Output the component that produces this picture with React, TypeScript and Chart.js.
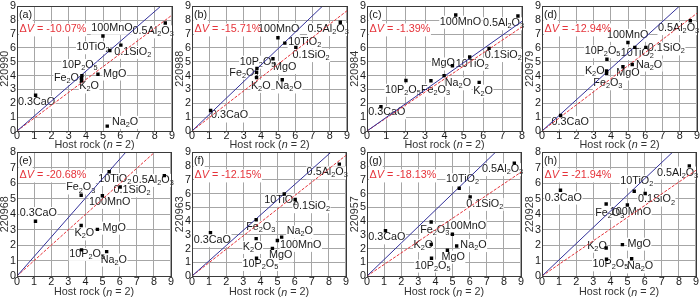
import { useEffect, useRef } from 'react';
import { Chart, registerables } from 'chart.js';
Chart.register(...registerables);

// ---------- data ----------
const oxideLabels = ['0.1SiO2', '10TiO2', '0.5Al2O3', 'Fe2O3', '100MnO', 'MgO', '0.3CaO', 'Na2O', 'K2O', '10P2O5'];
const hostRock = [6.03, 5.39, 8.61, 3.75, 4.99, 4.7, 1.08, 5.24, 3.75, 3.77];
const hostRockC = [6.3, 5.3, 7.79, 3.3, 4.58, 4.41, 0.72, 3.98, 5.79, 2.01];

const sampleIds = ['220990', '220988', '220984', '220979', '220968', '220963', '220957', '220928'];
const panelTags = ['(a)', '(b)', '(c)', '(d)', '(e)', '(f)', '(g)', '(h)'];
const deltaV = [-10.07, -15.71, -1.39, -12.94, -20.68, -12.15, -18.13, -21.94];

const yA = [6.2, 5.81, 7.8, 3.82, 6.86, 4.1, 2.58, 0.35, 3.65, 4.0];
const yB = [6.04, 6.35, 7.85, 4.24, 6.74, 5.22, 1.48, 3.7, 3.86, 4.52];
const yC = [5.97, 5.34, 8.31, 3.63, 8.38, 4.71, 1.76, 4.0, 3.51, 3.65];
const yD = [6.04, 6.04, 7.96, 4.17, 6.39, 4.64, 1.12, 4.8, 4.33, 5.18];
const yE = [5.76, 6.75, 6.5, 5.23, 5.19, 3.02, 3.54, 1.58, 3.27, 1.69];
const yF = [5.57, 5.97, 8.15, 4.1, 2.58, 2.01, 3.16, 2.83, 2.72, 1.29];
const yG = [5.76, 6.39, 8.22, 3.93, 3.04, 1.87, 3.3, 2.18, 2.3, 1.29];
const yH = [5.34, 5.49, 7.13, 4.66, 4.6, 2.03, 5.55, 1.12, 1.81, 1.08];
const sampleValues = [yA, yB, yC, yD, yE, yF, yG, yH];
const hostValues = [hostRock, hostRock, hostRockC, hostRock, hostRock, hostRock, hostRock, hostRock];

const blueSlopes = [1.08, 1.19, 0.99, 1.13, 1.26, 1.11, 1.2, 1.05];
const redSlopes = [0.93, 0.965, 0.94, 0.945, 0.996, 0.976, 0.84, 0.76];
const xMaxes = [9, 9, 8, 9, 9, 9, 9, 9];
const yMaxes = [9, 9, 9, 9, 8, 9, 9, 8];

// ---------- layout (label offsets in px, relative to point) ----------
const labelOffsets: number[][][] = [
  [[-6.7, 6.7], [-33.3, -3.3], [-32.7, 8.3], [-27.7, 0], [-11.7, -8.3], [5, -0.7], [-17.7, 6.7], [4.7, -4.3], [-2.3, 6], [-20, -10.7]],
  [[-3.3, 7.7], [3.3, -1.3], [-32.7, 6.7], [-27.3, 0.3], [-20, -9], [0, 8.3], [0.3, 5], [-6.7, 6.7], [-5.7, 8.3], [-17.3, -6.7]],
  [[-4.3, 6.7], [-14, 6.7], [-35, 7.3], [-10, 9], [-16, 6.7], [-21, -2.3], [-12.7, 5.7], [0.7, 7.7], [-6, 8.3], [-21, 9.3]],
  [[2, 1], [-14, 5.7], [-32.3, 7.3], [-13.3, 10], [-21, -7.7], [-6.7, 6.7], [-9, 6.7], [3.7, 0], [-21.7, 0], [-22.3, -8]],
  [[-6.7, 3.3], [-11, 7.3], [-31.7, 4.3], [-15, -7.7], [-13.3, 6], [5, -1.7], [-15.7, -8.3], [-6, 8], [-6.7, 8], [-12.3, 4]],
  [[-2.3, 6.7], [-20, 5.7], [-32.7, 8.3], [-10, 7.3], [2.7, 4.3], [-3.3, 7], [-16.7, 7.3], [5, -5.7], [-13.3, 8.3], [-14, 5.7]],
  [[-4, 7], [-13.3, -9], [-32.3, 6], [-11, 7.7], [-7.7, -8.7], [-6, 6.3], [-17.3, 6.7], [3.7, -1], [-17.7, 0.7], [-16.7, 7.3]],
  [[-7.3, 6], [-14, -10], [-32.3, 6.7], [-11, 8.7], [-17.7, 7.3], [5, -1], [-15.7, 7.3], [-4.7, 7.7], [-19, -2.3], [-14, 5]],
];

const FONT = '"Liberation Sans", Arial, Helvetica, sans-serif';
const FS = 10.8;
const PANEL_W = 175;
const ROWS = [
  { top: 0, h: 152, padTop: 3, axisH: 21, tickPad: 0, titleOff: 14 },
  { top: 146, h: 152, padTop: 2, axisH: 22, tickPad: 1, titleOff: 16.5 },
];
const RED = '#e5333a';
const BLUE = '#33319a';
const GRID = '#a6a6a6';
const TEXT = '#1a1a1a';

type Seg = { t: string; sub: boolean; italic?: boolean };
type TextItem = { segs: Seg[]; x: number; y: number; color: string };

function parseFormula(s: string): Seg[] {
  const segs: Seg[] = [];
  let prevLetter = false;
  for (const ch of s) {
    const isDigit = /[0-9]/.test(ch);
    const sub = isDigit && prevLetter;
    const last = segs[segs.length - 1];
    if (last && last.sub === sub) last.t += ch;
    else segs.push({ t: ch, sub });
    prevLetter = /[A-Za-z]/.test(ch) || sub;
  }
  return segs;
}

function segFont(seg: Seg) {
  const size = seg.sub ? FS * 0.68 : FS;
  return `${seg.italic ? 'italic ' : ''}${size}px ${FONT}`;
}

function segsWidth(ctx: CanvasRenderingContext2D, segs: Seg[]) {
  let w = 0;
  for (const s of segs) {
    ctx.font = segFont(s);
    w += ctx.measureText(s.t).width;
  }
  return w;
}

function drawBg(ctx: CanvasRenderingContext2D, it: TextItem) {
  const w = segsWidth(ctx, it.segs);
  ctx.fillStyle = '#ffffff';
  ctx.fillRect(it.x - 0.5, it.y - 6, w + 1, 13);
}

function drawText(ctx: CanvasRenderingContext2D, it: TextItem) {
  let cx = it.x;
  ctx.fillStyle = it.color;
  ctx.textBaseline = 'middle';
  ctx.textAlign = 'left';
  for (const s of it.segs) {
    ctx.font = segFont(s);
    ctx.fillText(s.t, cx, s.sub ? it.y + 3 : it.y);
    cx += ctx.measureText(s.t).width;
  }
}

function Panel({ idx }: { idx: number }) {
  const ref = useRef<HTMLCanvasElement>(null);
  const row = ROWS[Math.floor(idx / 4)];
  const col = idx % 4;

  useEffect(() => {
    const canvas = ref.current;
    if (!canvas) return;
    const xs = hostValues[idx];
    const ys = sampleValues[idx];
    const xMax = xMaxes[idx];
    const yMax = yMaxes[idx];
    const lineEnd = (k: number) => {
      const xe = Math.min(xMax, yMax / k);
      return [{ x: 0, y: 0 }, { x: xe, y: k * xe }];
    };

    const annot = {
      id: 'annot' + idx,
      beforeDatasetsDraw(chart: any) {
        const { ctx, chartArea, scales } = chart;
        ctx.save();
        const items: TextItem[] = [];
        xs.forEach((xv, i) => {
          const px = scales.x.getPixelForValue(xv);
          const py = scales.y.getPixelForValue(ys[i]);
          const [dx, dy] = labelOffsets[idx][i];
          items.push({ segs: parseFormula(oxideLabels[i]), x: px + dx, y: py + dy, color: TEXT });
        });
        items.push({ segs: [{ t: panelTags[idx], sub: false }], x: chartArea.left + 2, y: chartArea.top + 8.5, color: TEXT });
        items.push({
          segs: [
            { t: 'Δ', sub: false },
            { t: 'V', sub: false, italic: true },
            { t: ` = ${deltaV[idx].toFixed(2)}%`, sub: false },
          ],
          x: chartArea.left + 2.5,
          y: chartArea.top + 23,
          color: RED,
        });
        items.forEach((it) => drawBg(ctx, it));
        items.forEach((it) => drawText(ctx, it));
        ctx.restore();
      },
      afterDraw(chart: any) {
        const { ctx, chartArea } = chart;
        ctx.save();
        ctx.strokeStyle = '#3a3a3a';
        ctx.lineWidth = 1;
        const l = Math.round(chartArea.left) + 0.5;
        const t = Math.round(chartArea.top) + 0.5;
        const r = Math.round(chartArea.right) + 0.5;
        const b = Math.round(chartArea.bottom) + 0.5;
        ctx.strokeRect(l, t, r - l, b - t);
        const title: Seg[] = [
          { t: 'Host rock (', sub: false },
          { t: 'n', sub: false, italic: true },
          { t: ' = 2)', sub: false },
        ];
        const w = segsWidth(ctx, title);
        drawText(ctx, { segs: title, x: (chartArea.left + chartArea.right) / 2 - w / 2, y: chartArea.bottom + row.titleOff, color: '#333' });
        ctx.restore();
      },
    };

    const chart = new Chart(canvas, {
      type: 'scatter',
      data: {
        datasets: [
          {
            data: xs.map((x, i) => ({ x, y: ys[i] })),
            pointStyle: 'rect',
            pointRadius: 2.4,
            backgroundColor: '#000',
            borderWidth: 0,
          } as any,
          {
            data: lineEnd(blueSlopes[idx]),
            showLine: true,
            borderColor: BLUE,
            borderWidth: 1,
            pointRadius: 0,
          } as any,
          {
            data: lineEnd(redSlopes[idx]),
            showLine: true,
            borderColor: RED,
            borderWidth: 1,
            borderDash: [3, 1.5],
            pointRadius: 0,
          } as any,
        ],
      },
      options: {
        animation: false,
        responsive: false,
        maintainAspectRatio: false,
        devicePixelRatio: 1,
        layout: { padding: { top: row.padTop, right: 3, left: 0, bottom: 0 }, autoPadding: false } as any,
        plugins: { legend: { display: false }, tooltip: { enabled: false } },
        scales: {
          x: {
            type: 'linear',
            min: 0,
            max: xMax,
            ticks: { stepSize: 1, color: TEXT, font: { family: FONT, size: FS, lineHeight: 1 }, padding: row.tickPad, maxRotation: 0, autoSkip: false },
            grid: { color: GRID, drawTicks: false, lineWidth: 1 },
            border: { display: false },
            afterFit: (s: any) => { s.height = row.axisH; },
          },
          y: {
            type: 'linear',
            min: 0,
            max: yMax,
            ticks: { stepSize: 1, color: TEXT, font: { family: FONT, size: FS, lineHeight: 1 }, padding: 1, autoSkip: false },
            grid: { color: GRID, drawTicks: false, lineWidth: 1 },
            border: { display: false },
            title: { display: true, text: sampleIds[idx], color: '#333', font: { family: FONT, size: FS, lineHeight: 1 }, padding: 0 },
            afterFit: (s: any) => { s.width = 17; },
          },
        },
      } as any,
      plugins: [annot],
    });
    return () => chart.destroy();
  }, [idx]);

  return (
    <canvas
      ref={ref}
      width={PANEL_W}
      height={row.h}
      style={{ position: 'absolute', left: col * PANEL_W, top: row.top, width: PANEL_W, height: row.h }}
    />
  );
}

export default function App() {
  return (
    <div style={{ position: 'fixed', left: 0, top: 0, width: 700, height: 298, background: '#fff', overflow: 'hidden' }}>
      {sampleIds.map((_, i) => (
        <Panel key={i} idx={i} />
      ))}
    </div>
  );
}
